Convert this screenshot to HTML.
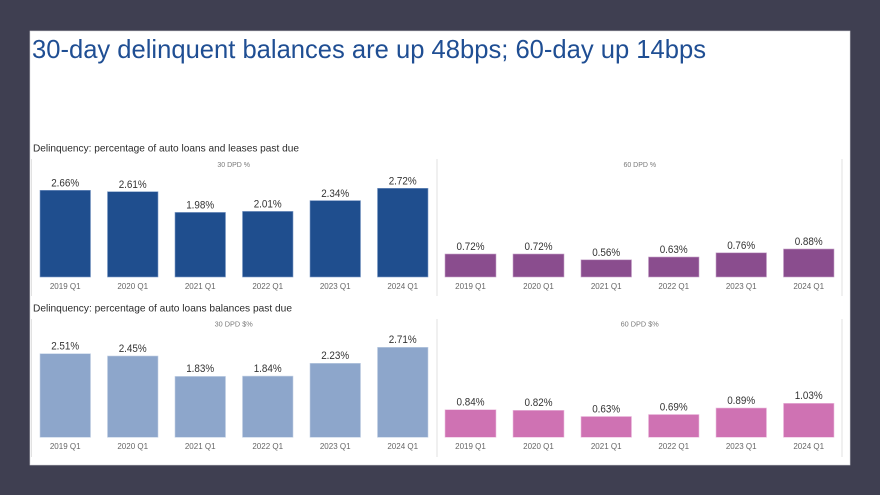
<!DOCTYPE html>
<html>
<head>
<meta charset="utf-8">
<style>
html,body{margin:0;padding:0;background:#3f3f51;}
svg{display:block;}
text{font-family:"Liberation Sans",Arial,sans-serif;}
</style>
</head>
<body>
<svg width="880" height="495" viewBox="0 0 880 495" xmlns="http://www.w3.org/2000/svg">
<rect x="0" y="0" width="880" height="495" fill="#3f3f51"/>
<rect x="30" y="31" width="820" height="434" fill="#ffffff" stroke="#d8d8dc" stroke-width="0.6"/>

<text x="32" y="58" font-size="25.6" fill="#1f4e93" textLength="674" lengthAdjust="spacingAndGlyphs">30-day delinquent balances are up 48bps; 60-day up 14bps</text>

<!-- Row 1 -->
<text x="33" y="151.5" font-size="10.5" fill="#2b2b2b" textLength="266" lengthAdjust="spacingAndGlyphs">Delinquency: percentage of auto loans and leases past due</text>
<line x1="31.5" y1="159" x2="31.5" y2="296" stroke="#e2e2e2" stroke-width="1"/>
<line x1="437" y1="159" x2="437" y2="296" stroke="#e2e2e2" stroke-width="1"/>
<line x1="842" y1="159" x2="842" y2="296" stroke="#e2e2e2" stroke-width="1"/>
<text x="233.7" y="167" font-size="7" fill="#7a7a7a" text-anchor="middle">30 DPD %</text>
<text x="639.8" y="167" font-size="7" fill="#7a7a7a" text-anchor="middle">60 DPD %</text>

<g fill="#1f4e8e" stroke="#7f9cc6" stroke-width="0.6">
<rect x="40" y="190.3" width="50.5" height="86.7"/>
<rect x="107.5" y="191.7" width="50.5" height="85.3"/>
<rect x="175" y="212.4" width="50.5" height="64.6"/>
<rect x="242.5" y="211.4" width="50.5" height="65.6"/>
<rect x="310" y="200.6" width="50.5" height="76.4"/>
<rect x="377.5" y="188.3" width="50.5" height="88.7"/>
</g>
<g font-size="11" fill="#333" text-anchor="middle">
<text x="65.2" y="186.5" textLength="28" lengthAdjust="spacingAndGlyphs">2.66%</text>
<text x="132.7" y="188" textLength="28" lengthAdjust="spacingAndGlyphs">2.61%</text>
<text x="200.2" y="208.5" textLength="28" lengthAdjust="spacingAndGlyphs">1.98%</text>
<text x="267.7" y="207.5" textLength="28" lengthAdjust="spacingAndGlyphs">2.01%</text>
<text x="335.2" y="196.8" textLength="28" lengthAdjust="spacingAndGlyphs">2.34%</text>
<text x="402.7" y="184.5" textLength="28" lengthAdjust="spacingAndGlyphs">2.72%</text>
</g>
<g font-size="8" fill="#666" text-anchor="middle">
<text x="65.2" y="289">2019 Q1</text>
<text x="132.7" y="289">2020 Q1</text>
<text x="200.2" y="289">2021 Q1</text>
<text x="267.7" y="289">2022 Q1</text>
<text x="335.2" y="289">2023 Q1</text>
<text x="402.7" y="289">2024 Q1</text>
</g>

<g fill="#8a4d8e" stroke="#c6a3c8" stroke-width="0.6">
<rect x="445" y="254" width="51" height="23"/>
<rect x="513" y="254" width="51" height="23"/>
<rect x="581" y="259.8" width="50.5" height="17.2"/>
<rect x="648.5" y="257" width="50.5" height="20"/>
<rect x="716" y="252.8" width="50.5" height="24.2"/>
<rect x="783.5" y="249" width="50.5" height="28"/>
</g>
<g font-size="11" fill="#333" text-anchor="middle">
<text x="470.5" y="250" textLength="28" lengthAdjust="spacingAndGlyphs">0.72%</text>
<text x="538.5" y="250" textLength="28" lengthAdjust="spacingAndGlyphs">0.72%</text>
<text x="606.2" y="255.8" textLength="28" lengthAdjust="spacingAndGlyphs">0.56%</text>
<text x="673.7" y="253" textLength="28" lengthAdjust="spacingAndGlyphs">0.63%</text>
<text x="741.2" y="248.8" textLength="28" lengthAdjust="spacingAndGlyphs">0.76%</text>
<text x="808.7" y="245" textLength="28" lengthAdjust="spacingAndGlyphs">0.88%</text>
</g>
<g font-size="8" fill="#666" text-anchor="middle">
<text x="470.5" y="289">2019 Q1</text>
<text x="538.5" y="289">2020 Q1</text>
<text x="606.2" y="289">2021 Q1</text>
<text x="673.7" y="289">2022 Q1</text>
<text x="741.2" y="289">2023 Q1</text>
<text x="808.7" y="289">2024 Q1</text>
</g>

<!-- Row 2 -->
<text x="33" y="311.5" font-size="10.5" fill="#2b2b2b" textLength="259" lengthAdjust="spacingAndGlyphs">Delinquency: percentage of auto loans balances past due</text>
<line x1="31.5" y1="319" x2="31.5" y2="457" stroke="#e2e2e2" stroke-width="1"/>
<line x1="437" y1="319" x2="437" y2="457" stroke="#e2e2e2" stroke-width="1"/>
<line x1="842" y1="319" x2="842" y2="457" stroke="#e2e2e2" stroke-width="1"/>
<text x="233.7" y="326.3" font-size="7.3" fill="#7a7a7a" text-anchor="middle">30 DPD $%</text>
<text x="639.7" y="326.3" font-size="7.3" fill="#7a7a7a" text-anchor="middle">60 DPD $%</text>

<g fill="#8da6cb" stroke="#c3d1e5" stroke-width="0.6">
<rect x="40" y="353.7" width="50.5" height="83.6"/>
<rect x="107.5" y="356" width="50.5" height="81.3"/>
<rect x="175" y="376.4" width="50.5" height="60.9"/>
<rect x="242.5" y="376.1" width="50.5" height="61.2"/>
<rect x="310" y="363.3" width="50.5" height="74"/>
<rect x="377.5" y="347.3" width="50.5" height="90"/>
</g>
<g font-size="11" fill="#333" text-anchor="middle">
<text x="65.2" y="349.5" textLength="28" lengthAdjust="spacingAndGlyphs">2.51%</text>
<text x="132.7" y="351.8" textLength="28" lengthAdjust="spacingAndGlyphs">2.45%</text>
<text x="200.2" y="372.2" textLength="28" lengthAdjust="spacingAndGlyphs">1.83%</text>
<text x="267.7" y="372" textLength="28" lengthAdjust="spacingAndGlyphs">1.84%</text>
<text x="335.2" y="359.2" textLength="28" lengthAdjust="spacingAndGlyphs">2.23%</text>
<text x="402.7" y="343.2" textLength="28" lengthAdjust="spacingAndGlyphs">2.71%</text>
</g>
<g font-size="8" fill="#666" text-anchor="middle">
<text x="65.2" y="449">2019 Q1</text>
<text x="132.7" y="449">2020 Q1</text>
<text x="200.2" y="449">2021 Q1</text>
<text x="267.7" y="449">2022 Q1</text>
<text x="335.2" y="449">2023 Q1</text>
<text x="402.7" y="449">2024 Q1</text>
</g>

<g fill="#cf72b3" stroke="#ecc0df" stroke-width="0.6">
<rect x="445" y="409.7" width="51" height="27.6"/>
<rect x="513" y="410.3" width="51" height="27"/>
<rect x="581" y="416.5" width="50.5" height="20.8"/>
<rect x="648.5" y="414.5" width="50.5" height="22.8"/>
<rect x="716" y="408" width="50.5" height="29.3"/>
<rect x="783.5" y="403.3" width="50.5" height="34"/>
</g>
<g font-size="11" fill="#333" text-anchor="middle">
<text x="470.5" y="405.5" textLength="28" lengthAdjust="spacingAndGlyphs">0.84%</text>
<text x="538.5" y="406.2" textLength="28" lengthAdjust="spacingAndGlyphs">0.82%</text>
<text x="606.2" y="412.4" textLength="28" lengthAdjust="spacingAndGlyphs">0.63%</text>
<text x="673.7" y="410.4" textLength="28" lengthAdjust="spacingAndGlyphs">0.69%</text>
<text x="741.2" y="404" textLength="28" lengthAdjust="spacingAndGlyphs">0.89%</text>
<text x="808.7" y="399.2" textLength="28" lengthAdjust="spacingAndGlyphs">1.03%</text>
</g>
<g font-size="8" fill="#666" text-anchor="middle">
<text x="470.5" y="449">2019 Q1</text>
<text x="538.5" y="449">2020 Q1</text>
<text x="606.2" y="449">2021 Q1</text>
<text x="673.7" y="449">2022 Q1</text>
<text x="741.2" y="449">2023 Q1</text>
<text x="808.7" y="449">2024 Q1</text>
</g>
</svg>
</body>
</html>
